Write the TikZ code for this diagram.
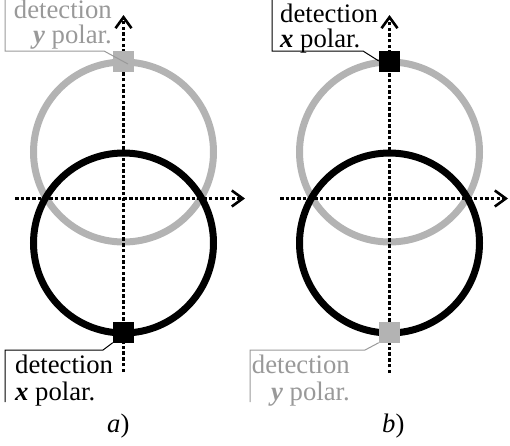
\documentclass[tikz,border=0pt]{standalone}
\usepackage{fontspec}
\setmainfont{Liberation Serif}
\usetikzlibrary{arrows.meta}
\definecolor{lg}{HTML}{B3B3B3}
\definecolor{tg}{HTML}{999999}
\begin{document}
\begin{tikzpicture}[x=1pt,y=-1pt,
  circ/.style={line width=7pt},
  axis/.style={line width=3.2pt, dash pattern=on 3.5pt off 2.2pt,
    -{Straight Barb[length=11pt,width=16pt,line width=2.6pt]}},
  det/.style={minimum size=21pt, inner sep=0pt, draw=none},
  lab/.style={inner sep=0pt, font=\fontspec{Liberation Serif}\fontsize{26.7}{26}\selectfont},
  call/.style={line width=1pt}]
\useasboundingbox (0,0) rectangle (510,445);
% ---------- panel a ----------
\draw[circ, lg] (123.5,152) circle[radius=90];
\draw[circ, black] (123.5,243) circle[radius=90];
\coordinate (av0) at (123.5,372);
\coordinate (av1) at (123.5,15);
\coordinate (ah0) at (15,198.5);
\coordinate (ah1) at (245,198.5);
\draw[axis] (av0) -- (av1);
\draw[axis] (ah0) -- (ah1);
\node[det, fill=lg] (sqa1) at (123.5,61) {};
\node[det, fill=black] (sqa2) at (123.5,332) {};
% top callout (gray)
\coordinate (ca1) at (5,0);
\coordinate (ca2) at (5,51);
\coordinate (ca3) at (104,51);
\coordinate (ca4) at (128,64);
\draw[call, tg] (ca1) -- (ca2) -- (ca3) -- (ca4);
\node[lab, text=tg, anchor=base east] (ta1) at (112,18) {detection};
\node[lab, text=tg, anchor=base east] (ta2) at (112,43) {\textbf{\textit{y}} polar.};
% bottom callout (black)
\coordinate (cb1) at (5,402);
\coordinate (cb2) at (5,350);
\coordinate (cb3) at (103,350);
\draw[call, black] (cb1) -- (cb2) -- (cb3) -- (sqa2.south west);
\node[lab, anchor=base west] (ba1) at (15,373) {detection};
\node[lab, anchor=base west] (ba2) at (15,400) {\textbf{\textit{x}} polar.};
\node[lab, anchor=base west] (la) at (107,432) {\textit{a})};
% ---------- panel b ----------
\draw[circ, lg] (389.5,152) circle[radius=90];
\draw[circ, black] (389.5,243) circle[radius=90];
\coordinate (bv0) at (389.5,373);
\coordinate (bv1) at (389.5,15);
\coordinate (bh0) at (280,198.5);
\coordinate (bh1) at (508,198.5);
\draw[axis] (bv0) -- (bv1);
\draw[axis] (bh0) -- (bh1);
\node[det, fill=black] (sqb1) at (389.5,61) {};
\node[det, fill=lg] (sqb2) at (389.5,332) {};
% top callout (black)
\coordinate (cc1) at (272,0);
\coordinate (cc2) at (272,51);
\coordinate (cc3) at (363,51);
\draw[call, black] (cc1) -- (cc2) -- (cc3) -- (sqb1.west);
\node[lab, anchor=base west] (tb1) at (280,22) {detection};
\node[lab, anchor=base west] (tb2) at (280,47) {\textbf{\textit{x}} polar.};
% bottom callout (gray)
\coordinate (cd1) at (250,402);
\coordinate (cd2) at (250,350);
\coordinate (cd3) at (365,350);
\draw[call, tg] (cd1) -- (cd2) -- (cd3) -- (sqb2.south west);
\node[lab, text=tg, anchor=base east] (bb1) at (350,373) {detection};
\node[lab, text=tg, anchor=base east] (bb2) at (350,400) {\textbf{\textit{y}} polar.};
\node[lab, anchor=base west] (lb) at (382,432) {\textit{b})};
\end{tikzpicture}
\end{document}
